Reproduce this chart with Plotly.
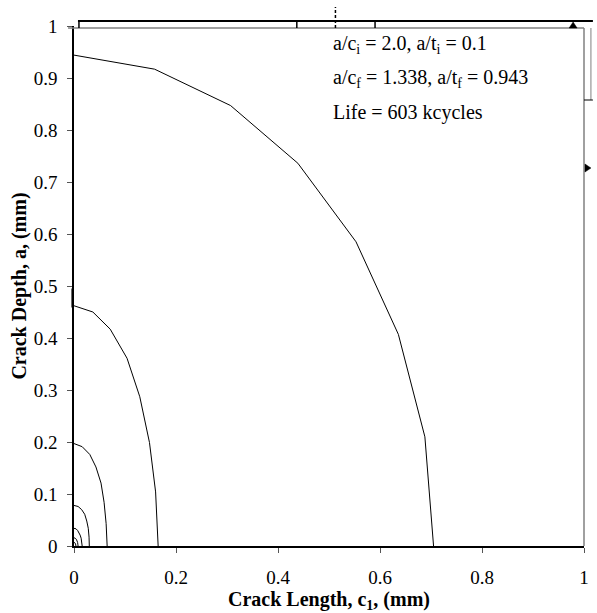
import plotly.graph_objects as go

# Crack front profiles (c1, a) in mm, largest first
front_c = [
    [0.0, 0.158, 0.307, 0.439, 0.553, 0.636, 0.688, 0.705],
    [0.0, 0.037, 0.071, 0.104, 0.129, 0.148, 0.160, 0.165],
    [0.0, 0.016, 0.031, 0.043, 0.053, 0.059, 0.063, 0.065],
    [0.0, 0.008, 0.015, 0.021, 0.025, 0.028, 0.0295, 0.030],
    [0.0, 0.004, 0.007, 0.010, 0.012, 0.014, 0.0155, 0.016],
    [0.0, 0.002, 0.0035, 0.005, 0.006, 0.007, 0.0075, 0.008],
    [0.0, 0.001, 0.0017, 0.0024, 0.003, 0.0034, 0.0037, 0.0038],
]
front_a = [
    [0.944, 0.917, 0.847, 0.736, 0.585, 0.407, 0.210, 0.0],
    [0.462, 0.450, 0.417, 0.361, 0.287, 0.199, 0.104, 0.0],
    [0.197, 0.191, 0.176, 0.152, 0.121, 0.084, 0.043, 0.0],
    [0.078, 0.076, 0.070, 0.061, 0.048, 0.034, 0.017, 0.0],
    [0.034, 0.033, 0.030, 0.026, 0.021, 0.015, 0.008, 0.0],
    [0.016, 0.0155, 0.014, 0.012, 0.010, 0.007, 0.0035, 0.0],
    [0.007, 0.0068, 0.0062, 0.0054, 0.0043, 0.003, 0.0015, 0.0],
]

x_ticks = [0, 0.2, 0.4, 0.6, 0.8, 1]
x_tick_labels = ["0", "0.2", "0.4", "0.6", "0.8", "1"]
y_ticks = [0, 0.1, 0.2, 0.3, 0.4, 0.5, 0.6, 0.7, 0.8, 0.9, 1]
y_tick_labels = ["0", "0.1", "0.2", "0.3", "0.4", "0.5", "0.6", "0.7", "0.8", "0.9", "1"]

notes = [
    "a/c<sub>i</sub> = 2.0, a/t<sub>i</sub> = 0.1",
    "a/c<sub>f</sub> = 1.338, a/t<sub>f</sub> = 0.943",
    "Life = 603 kcycles",
]

SERIF = "Liberation Serif"

fig = go.Figure()
for cx, ay in zip(front_c, front_a):
    fig.add_trace(go.Scatter(x=cx, y=ay, mode="lines",
                             line=dict(color="black", width=1),
                             showlegend=False, hoverinfo="skip"))

# Pixel helpers for decorative overlay marks (plot area: x 74..589, y 26..546)
W0, W1, H0, H1 = 74.0, 589.0, 546.0, 26.0
def px(xp):
    return (xp - W0) / (W1 - W0)
def py(yp):
    return (H0 - yp) / (H0 - H1)

shapes = []
GR = "#808080"
# gray top and right frame
shapes.append(dict(type="line", xref="paper", yref="paper", x0=px(68), x1=1, y0=py(28), y1=py(28),
                   line=dict(color=GR, width=1.5)))
shapes.append(dict(type="line", xref="paper", yref="paper", x0=1, x1=1, y0=0, y1=py(28),
                   line=dict(color=GR, width=1.5)))
# thick black line above plot
shapes.append(dict(type="line", xref="paper", yref="paper", x0=px(78), x1=px(598), y0=py(21), y1=py(21),
                   line=dict(color="black", width=2.2)))
for xx in [79, 299, 378]:
    shapes.append(dict(type="line", xref="paper", yref="paper", x0=px(xx), x1=px(xx), y0=py(21), y1=py(28),
                       line=dict(color="black", width=1.5)))
# dashed vertical mark
shapes.append(dict(type="line", xref="paper", yref="paper", x0=px(338), x1=px(338), y0=py(28), y1=py(7),
                   line=dict(color="black", width=1.5, dash="3px,2px")))
# small triangle at top right
shapes.append(dict(type="path", xref="paper", yref="paper",
                   path=f"M {px(574)},{py(28)} L {px(582)},{py(28)} L {px(578)},{py(22)} Z",
                   fillcolor="black", line=dict(color="black", width=0.5)))
# right-side marks
shapes.append(dict(type="line", xref="paper", yref="paper", x0=px(596), x1=px(596), y0=py(100), y1=py(28),
                   line=dict(color=GR, width=1)))
shapes.append(dict(type="line", xref="paper", yref="paper", x0=1, x1=px(598), y0=py(100), y1=py(100),
                   line=dict(color="black", width=1)))
shapes.append(dict(type="path", xref="paper", yref="paper",
                   path=f"M {px(590)},{py(164)} L {px(590)},{py(172)} L {px(596)},{py(168)} Z",
                   fillcolor="black", line=dict(color="black", width=0.5)))
# small bracket on the left axis
shapes.append(dict(type="path", xref="paper", yref="paper",
                   path=f"M {px(74)},{py(289)} L {px(72)},{py(289)} L {px(72)},{py(307)} L {px(74)},{py(307)}",
                   line=dict(color="black", width=1.2)))

annotations = []
for txt, yp in zip(notes, [45, 79, 113]):
    annotations.append(dict(text=txt, xref="paper", yref="paper", x=px(334), y=py(yp),
                            xanchor="left", yanchor="middle", showarrow=False,
                            font=dict(family=SERIF, size=20, color="black")))

fig.update_layout(
    width=597, height=613,
    margin=dict(l=74, r=8, t=26, b=67),
    paper_bgcolor="white", plot_bgcolor="white",
    font=dict(family=SERIF, color="black"),
    shapes=shapes, annotations=annotations,
    xaxis=dict(range=[0, 1], tickvals=x_ticks, ticktext=x_tick_labels,
               showgrid=False, zeroline=False, showline=True, linecolor="black", linewidth=1.5,
               ticks="outside", ticklen=5, tickcolor="#555", tickwidth=1.2,
               tickfont=dict(family=SERIF, size=19, color="black"), ticklabelstandoff=8,
               title=dict(text="<b>Crack Length, c<sub>1</sub>, (mm)</b>",
                          font=dict(family=SERIF, size=20, color="black"), standoff=2)),
    yaxis=dict(range=[0, 1], tickvals=y_ticks, ticktext=y_tick_labels,
               showgrid=False, zeroline=False, showline=True, linecolor="black", linewidth=1.5,
               ticks="outside", ticklen=5, tickcolor="#555", tickwidth=1.2,
               tickfont=dict(family=SERIF, size=19, color="black"), ticklabelstandoff=6,
               title=dict(text="<b>Crack Depth, a, (mm)</b>",
                          font=dict(family=SERIF, size=20, color="black"), standoff=2)),
)

fig.write_html("out.html")
